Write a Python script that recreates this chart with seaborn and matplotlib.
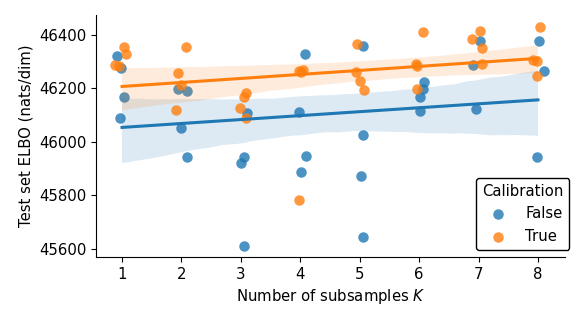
import numpy as np
import pandas as pd
import matplotlib
matplotlib.use("Agg")
import matplotlib.pyplot as plt
import seaborn as sns

# values (x positions include the plotted jitter)
k_false = [1, 1, 1, 1, 2, 2, 2, 2, 3, 3, 3, 3, 4, 4, 4, 4,
           5, 5, 5, 5, 6, 6, 6, 6, 7, 7, 7, 8, 8, 8]
xj_false = [0.91, 0.98, 1.03, 0.97, 1.95, 2.09, 1.99, 2.09, 3.10, 3.05, 3.00, 3.06,
            4.08, 3.98, 4.10, 4.01, 5.05, 5.06, 5.02, 5.06, 6.08, 6.06, 6.02, 6.02,
            7.03, 6.91, 6.96, 8.01, 8.10, 7.98]
elbo_false = [46319, 46276, 46169, 46091, 46197, 46190, 46051, 45944,
              46107, 45943, 45923, 45610, 46328, 46112, 45948, 45889,
              46359, 46025, 45872, 45646, 46222, 46199, 46169, 46116,
              46378, 46287, 46123, 46375, 46264, 45945]

k_true = [1, 1, 1, 1, 2, 2, 2, 2, 3, 3, 3, 3, 4, 4, 4, 4,
          5, 5, 5, 5, 6, 6, 6, 6, 7, 7, 7, 7, 8, 8, 8, 8]
xj_true = [1.04, 1.07, 0.89, 0.95, 2.07, 1.94, 1.99, 1.91, 3.08, 3.06, 2.99, 3.09,
           3.98, 4.04, 4.01, 3.98, 4.95, 4.94, 5.01, 5.07, 6.07, 5.95, 5.96, 5.97,
           7.03, 6.89, 7.06, 7.06, 8.03, 7.91, 7.98, 7.99]
elbo_true = [46353, 46328, 46288, 46285, 46354, 46257, 46213, 46120,
             46184, 46167, 46125, 46089, 46263, 46269, 46262, 45784,
             46366, 46262, 46229, 46194, 46411, 46290, 46284, 46197,
             46415, 46386, 46350, 46292, 46430, 46307, 46303, 46246]

df = pd.concat([
    pd.DataFrame({"K": k_false, "K_shown": xj_false, "ELBO": elbo_false, "Calibration": "False"}),
    pd.DataFrame({"K": k_true, "K_shown": xj_true, "ELBO": elbo_true, "Calibration": "True"}),
], ignore_index=True)

colors = {"False": "tab:blue", "True": "tab:orange"}
plt.rcParams["font.size"] = 10.7

fig = plt.figure(figsize=(5.81, 3.25), dpi=100)
ax = fig.add_axes([0.165, 0.209, 0.807, 0.745])

for cal in ["False", "True"]:
    sub = df[df["Calibration"] == cal]
    ax.scatter(sub["K_shown"], sub["ELBO"], s=57, color=colors[cal], alpha=0.8,
               linewidths=0, label=cal)
    sns.regplot(data=sub, x="K", y="ELBO", scatter=False, color=colors[cal],
                ax=ax, seed=0, truncate=True, line_kws={"lw": 2.2})

ax.set_xlim(0.56, 8.45)
ax.set_ylim(45570, 46474)
ax.set_xticks(range(1, 9))
ax.set_yticks([45600, 45800, 46000, 46200, 46400])
ax.set_xlabel("Number of subsamples $K$")
ax.set_ylabel("Test set ELBO (nats/dim)")
sns.despine(ax=ax)

leg = ax.legend(title="Calibration", loc="lower right", bbox_to_anchor=(1.026, 0.0))
leg.get_frame().set_edgecolor("black")
leg.get_frame().set_alpha(1)

fig.savefig("out.png", dpi=100)
